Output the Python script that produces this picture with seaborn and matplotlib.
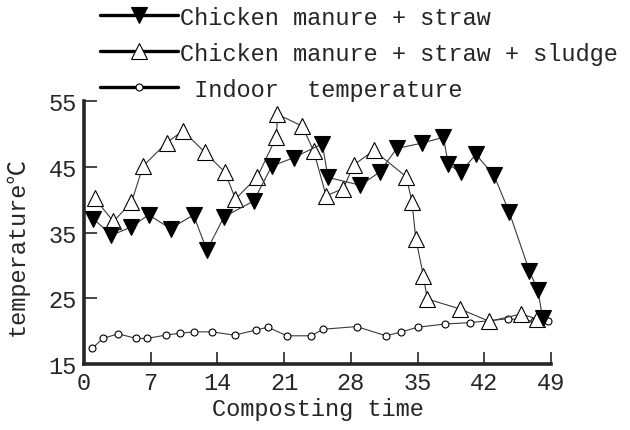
import matplotlib
matplotlib.use("Agg")
import matplotlib.pyplot as plt
import seaborn as sns
import pandas as pd

sns.set_style("ticks")
plt.rcParams['font.family'] = ['Liberation Mono', 'Noto Sans CJK SC', 'DejaVu Sans']

# Chicken manure + straw
day_a = [1.0, 2.9, 4.9, 6.8, 9.1, 11.5, 12.9, 14.7, 17.8, 19.7, 22.0, 25.0, 25.6, 29.0, 31.0, 32.8, 35.4, 37.7, 38.2, 39.5, 41.1, 43.0, 44.6, 46.7, 47.6, 48.1]
temp_a = [37.1, 34.6, 35.8, 37.7, 35.6, 37.7, 32.3, 37.4, 39.8, 45.1, 46.4, 48.5, 43.4, 42.2, 44.2, 47.8, 48.6, 49.5, 45.4, 44.2, 46.9, 43.7, 38.1, 29.2, 26.2, 22.0]

# Chicken manure + straw + sludge
day_b = [1.15, 3.1, 5.0, 6.2, 8.7, 10.4, 12.7, 14.8, 15.9, 18.2, 20.2, 20.3, 22.9, 24.1, 25.4, 27.2, 28.3, 30.4, 33.8, 34.4, 34.8, 35.6, 36.0, 39.4, 42.5, 45.8, 47.5]
temp_b = [40.2, 36.7, 39.6, 45.1, 48.7, 50.5, 47.2, 44.2, 40.1, 43.5, 49.6, 53.0, 51.2, 47.4, 40.6, 41.7, 45.3, 47.5, 43.5, 39.7, 34.1, 28.4, 24.9, 23.4, 21.5, 22.6, 21.9]

# Indoor temperature
day_c = [0.9, 2.0, 3.6, 5.5, 6.6, 8.6, 10.1, 11.6, 13.4, 15.8, 18.1, 19.3, 21.3, 23.8, 25.1, 28.6, 31.7, 33.3, 35.0, 37.9, 40.5, 44.5, 47.2, 48.7]
temp_c = [17.4, 18.9, 19.6, 18.9, 18.9, 19.4, 19.7, 19.9, 19.9, 19.4, 20.2, 20.6, 19.3, 19.3, 20.3, 20.7, 19.3, 19.9, 20.6, 21.1, 21.3, 21.9, 21.5, 21.5]

labels = ["Chicken manure + straw", "Chicken manure + straw + sludge", " Indoor  temperature"]
xticks = [0, 7, 14, 21, 28, 35, 42, 49]
yticks = [15, 25, 35, 45, 55]

fig = plt.figure(figsize=(6.3, 4.31), dpi=100)
ax = fig.add_axes([0.133, 0.153, 0.742, 0.610])

lc = '#3a3a3a'
sns.lineplot(x=day_c, y=temp_c, ax=ax, estimator=None, sort=False, color=lc, lw=0.8,
             marker='o', markersize=5, markerfacecolor='white', markeredgecolor='black',
             markeredgewidth=0.8, label=labels[2], clip_on=False, zorder=3)
sns.lineplot(x=day_b, y=temp_b, ax=ax, estimator=None, sort=False, color=lc, lw=0.8,
             marker='^', markersize=11, markerfacecolor='white', markeredgecolor='black',
             markeredgewidth=0.8, label=labels[1], clip_on=False, zorder=4)
sns.lineplot(x=day_a, y=temp_a, ax=ax, estimator=None, sort=False, color=lc, lw=0.8,
             marker='v', markersize=11, markerfacecolor='black', markeredgecolor='black',
             markeredgewidth=0.8, label=labels[0], clip_on=False, zorder=5)

ax.set_xlim(0, 49)
ax.set_ylim(15, 55)
ax.set_xticks(xticks)
ax.set_yticks(yticks)
ax.tick_params(direction='in', length=9, width=1.2, labelsize=17, pad=5)
for s in ['top', 'right']:
    ax.spines[s].set_visible(False)
for s in ['left', 'bottom']:
    ax.spines[s].set_linewidth(2.6)
ax.set_xlabel("Composting time", fontsize=17, labelpad=2)
ax.set_ylabel("temperature℃", fontsize=17)
ax.yaxis.set_label_coords(-0.118, 0.45)

h, l = ax.get_legend_handles_labels()
order = [2, 1, 0]
leg = ax.legend([h[i] for i in order], [l[i] for i in order], loc='upper left',
                bbox_to_anchor=(0.155, 0.99), bbox_transform=fig.transFigure,
                frameon=False, fontsize=17, handlelength=3.3, handletextpad=0.1,
                labelspacing=0.55, borderaxespad=0, borderpad=0.1)
for lh in leg.get_lines():
    lh.set_linewidth(2.4)
    lh.set_color('black')

fig.savefig("out.png", dpi=100)
